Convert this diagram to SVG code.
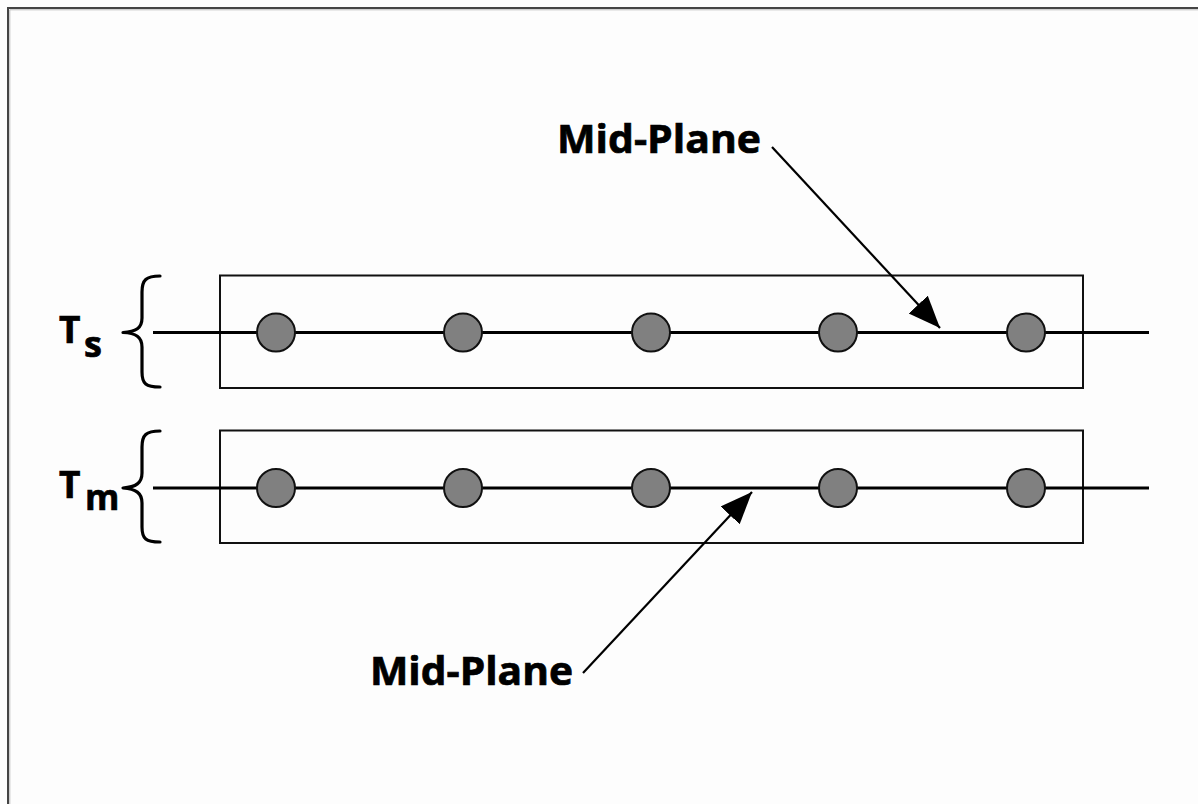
<svg xmlns="http://www.w3.org/2000/svg" width="1198" height="804" viewBox="0 0 1198 804">
  <style>
    .lbl { font-family: "Open Sans", "Noto Sans", "Liberation Sans", sans-serif; font-weight: bold; fill: #000; stroke: #000; stroke-width: 0.7; }
    .layer { fill: none; stroke: #111; stroke-width: 2; }
    .plane { stroke: #000; stroke-width: 3; fill: none; }
    .fiber { fill: #808080; stroke: #111; stroke-width: 2; }
    .brace { fill: none; stroke: #000; stroke-width: 3.2; stroke-linecap: round; stroke-linejoin: round; }
    .lead { stroke: #000; stroke-width: 2.2; fill: none; }
  </style>
  <defs>
    <marker id="head" markerUnits="userSpaceOnUse" markerWidth="34" markerHeight="28" refX="32" refY="13" orient="auto">
      <path d="M0,0 L32,13 L0,26 Z" fill="#000"/>
    </marker>
  </defs>

  <rect width="1198" height="804" fill="#fdfdfd"/>
  <!-- outer frame (top and left edges) -->
  <path d="M8,804 V8 H1198" fill="none" stroke="#444" stroke-width="2"/>
  <path d="M9.8,804 V9.8 H1198" fill="none" stroke="#bbb" stroke-width="1"/>

  <!-- top layer -->
  <g id="layer-s">
    <rect class="layer" x="220" y="275.5" width="863" height="112.5"/>
    <line class="plane" x1="153" y1="332.5" x2="1149" y2="332.5"/>
    <circle class="fiber" cx="276" cy="332.5" r="19"/>
    <circle class="fiber" cx="463" cy="332.5" r="19"/>
    <circle class="fiber" cx="651" cy="332.5" r="19"/>
    <circle class="fiber" cx="838" cy="332.5" r="19"/>
    <circle class="fiber" cx="1026" cy="332.5" r="19"/>
  </g>

  <!-- bottom layer -->
  <g id="layer-m">
    <rect class="layer" x="220" y="430.5" width="863" height="112.5"/>
    <line class="plane" x1="153" y1="488" x2="1149" y2="488"/>
    <circle class="fiber" cx="276" cy="488" r="19"/>
    <circle class="fiber" cx="463" cy="488" r="19"/>
    <circle class="fiber" cx="651" cy="488" r="19"/>
    <circle class="fiber" cx="838" cy="488" r="19"/>
    <circle class="fiber" cx="1026" cy="488" r="19"/>
  </g>

  <!-- thickness braces and labels -->
  <g id="brace-s">
    <path class="brace" d="M160,276 C146,276 142,280 142,292 L142,318 C142,328 136,332 123,332.5 C136,333 142,337 142,347 L142,372 C142,384 146,387 160,387"/>
    <text class="lbl" x="59" y="343" font-size="37">T</text>
    <text class="lbl" x="84" y="357" font-size="36">s</text>
  </g>
  <g id="brace-m">
    <path class="brace" d="M160,431 C146,431 142,435 142,447 L142,473 C142,483 136,487 123,488 C136,489 142,493 142,503 L142,527 C142,539 146,542 160,542"/>
    <text class="lbl" x="59" y="498" font-size="37">T</text>
    <text class="lbl" x="85" y="510" font-size="35">m</text>
  </g>

  <!-- mid-plane callouts -->
  <g id="label-top">
    <text class="lbl" x="557" y="153" font-size="40" textLength="204" lengthAdjust="spacingAndGlyphs">Mid-Plane</text>
  </g>
  <g id="label-bottom">
    <text class="lbl" x="370" y="685" font-size="40" textLength="203" lengthAdjust="spacingAndGlyphs">Mid-Plane</text>
  </g>

  <g id="connectors">
    <line class="lead" x1="772" y1="147" x2="940" y2="328" marker-end="url(#head)"/>
    <line class="lead" x1="583" y1="673" x2="752" y2="492" marker-end="url(#head)"/>
  </g>
</svg>
